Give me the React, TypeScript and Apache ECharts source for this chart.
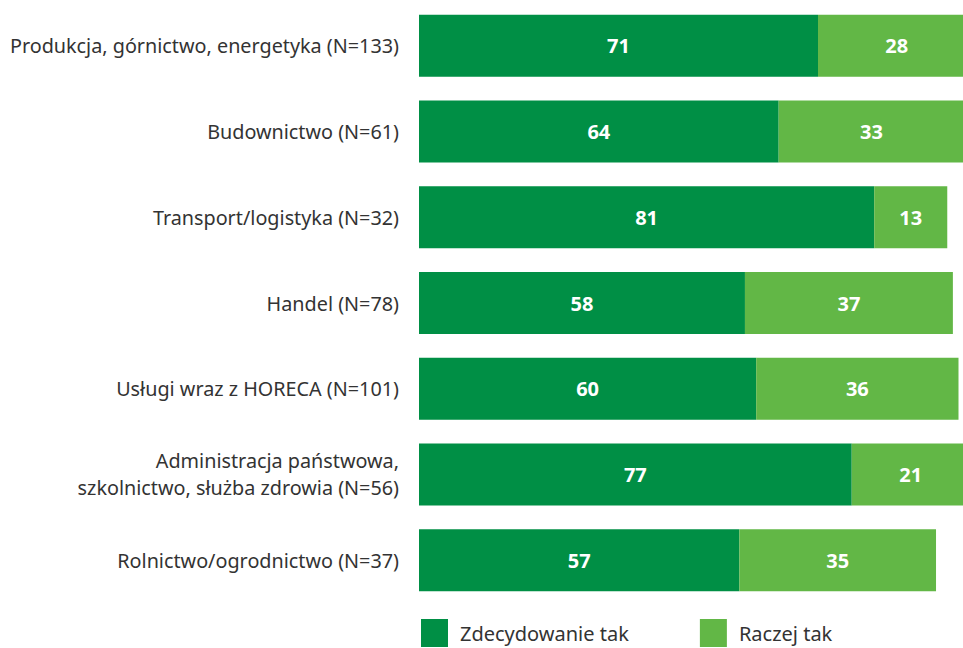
import React, { useEffect, useRef } from "react";
import * as echarts from "echarts";

const categories = [
  "Produkcja, górnictwo, energetyka (N=133)",
  "Budownictwo (N=61)",
  "Transport/logistyka (N=32)",
  "Handel (N=78)",
  "Usługi wraz z HORECA (N=101)",
  "Administracja państwowa,\nszkolnictwo, służba zdrowia (N=56)",
  "Rolnictwo/ogrodnictwo (N=37)",
];
const zdecydowanieTak = [71, 64, 81, 58, 60, 77, 57];
const raczejTak = [28, 33, 13, 37, 36, 21, 35];
const seriesNames = ["Zdecydowanie tak", "Raczej tak"];

const FONT = "'Noto Sans', 'Open Sans', sans-serif";

export default function App() {
  const ref = useRef<HTMLDivElement>(null);
  useEffect(() => {
    if (!ref.current) return;
    const chart = echarts.init(ref.current, undefined, { renderer: "svg" });
    const labelStyle = {
      show: true,
      position: "inside",
      color: "#ffffff",
      fontSize: 20,
      fontWeight: "bold",
      fontFamily: FONT,
    };
    chart.setOption({
      animation: false,
      backgroundColor: "#ffffff",
      textStyle: { fontFamily: FONT },
      grid: { left: 419, right: 0, top: 3, height: 600, containLabel: false },
      legend: {
        left: 421,
        top: 619,
        padding: 0,
        itemWidth: 27,
        itemHeight: 28,
        itemGap: 71,
        icon: "rect",
        data: seriesNames,
        textStyle: { fontSize: 20, color: "#333333", fontFamily: FONT, padding: [8, 0, 0, 7] },
      },
      xAxis: { type: "value", min: 0, max: 96.8, show: false },
      yAxis: {
        type: "category",
        data: categories,
        inverse: true,
        axisLine: { show: false },
        axisTick: { show: false },
        axisLabel: {
          margin: 20,
          fontSize: 19.8,
          color: "#333333",
          fontFamily: FONT,
          lineHeight: 27,
        },
      },
      series: [
        {
          name: seriesNames[0],
          type: "bar",
          stack: "total",
          barWidth: 62,
          clip: false,
          data: zdecydowanieTak,
          itemStyle: { color: "#008F45" },
          label: labelStyle,
        },
        {
          name: seriesNames[1],
          type: "bar",
          stack: "total",
          barWidth: 62,
          clip: false,
          data: raczejTak,
          itemStyle: { color: "#62B746" },
          label: labelStyle,
        },
      ],
    });
    return () => chart.dispose();
  }, []);
  return (
    <div
      ref={ref}
      style={{ position: "absolute", left: 0, top: 0, width: 963, height: 648 }}
    />
  );
}
